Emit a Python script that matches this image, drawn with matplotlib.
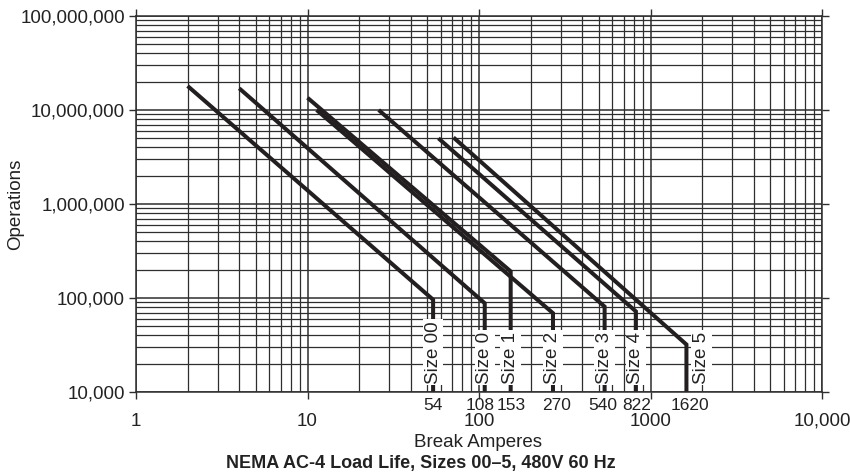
import matplotlib
matplotlib.use("Agg")
import matplotlib.pyplot as plt
from matplotlib.ticker import LogLocator, FixedLocator, NullFormatter, FuncFormatter
import matplotlib.transforms as mtransforms

# ---- data ----
sizes = ["Size 00", "Size 0", "Size 1", "Size 2", "Size 3", "Size 4", "Size 5"]
rated_amps = [54, 108, 153, 270, 540, 822, 1620]
start_amps = [2, 4, 10, 11.3, 26, 58, 71]
start_ops = [18e6, 17e6, 13.5e6, 10e6, 10e6, 5e6, 5.1e6]
knee_ops = [96000, 88000, 192000, 69000, 81000, 72000, 32000]
x_ticks = [1, 10, 100, 1000, 10000]
x_tick_labels = ["1", "10", "100", "1000", "10,000"]
y_ticks = [1e4, 1e5, 1e6, 1e7, 1e8]
amp_labels = ["54", "108", "153", "270", "540", "822", "1620"]

plt.rcParams['font.family'] = ['Liberation Sans', 'DejaVu Sans']
FS = 13.5
GRID = '#2e2e2e'
INK = '#231f20'
TXT = '#222222'

fig = plt.figure(figsize=(8.5, 4.73), dpi=100)
W, H = 850, 473
ax = fig.add_axes([136 / W, 1 - 392 / H, (822 - 136) / W, (392 - 16) / H])
ax.set_xscale('log')
ax.set_yscale('log')
ax.set_xlim(1, 10000)
ax.set_ylim(1e4, 1e8)

ax.xaxis.set_major_locator(FixedLocator(x_ticks))
ax.set_xticklabels(x_tick_labels)
ax.xaxis.set_minor_locator(LogLocator(base=10, subs=range(2, 10), numticks=50))
ax.xaxis.set_minor_formatter(NullFormatter())
ax.yaxis.set_major_locator(FixedLocator(y_ticks))
ax.yaxis.set_major_formatter(FuncFormatter(lambda v, p: f"{int(round(v)):,}"))
ax.yaxis.set_minor_locator(LogLocator(base=10, subs=range(2, 10), numticks=50))
ax.yaxis.set_minor_formatter(NullFormatter())

ax.set_axisbelow(True)
ax.grid(True, which='major', color=GRID, lw=1.1)
ax.grid(True, which='minor', color=GRID, lw=0.9)
for s in ax.spines.values():
    s.set_color(GRID)
    s.set_linewidth(1.1)

ax.tick_params(which='minor', length=0)
ax.tick_params(which='major', direction='out', length=5, width=1, color=GRID,
               top=True, right=True, labeltop=False, labelright=False,
               labelsize=FS, labelcolor=TXT)
ax.tick_params(axis='x', which='major', pad=10)
ax.tick_params(axis='y', which='major', pad=3)

# curves
for i in range(len(sizes)):
    xs = [start_amps[i], rated_amps[i], rated_amps[i]]
    ys = [start_ops[i], knee_ops[i], 1e4]
    ax.plot(xs, ys, color=INK, lw=2.9, solid_joinstyle='miter',
            solid_capstyle='butt', zorder=2.5, clip_on=False)

# size labels
label_dx_px = {"Size 5": 15}
for i, name in enumerate(sizes):
    off = mtransforms.offset_copy(ax.transData, fig=fig, x=label_dx_px.get(name, 0) * 72 / 100,
                                  y=0, units='points')
    ax.text(rated_amps[i], 12300, name, rotation=90, ha='center', va='bottom',
            fontsize=FS, color=TXT, transform=off, zorder=4,
            bbox=dict(facecolor='white', edgecolor='none', pad=1.2))

# amp labels under axis (small horizontal nudges, in pixels, to avoid collisions)
amp_label_dx_px = [0, -5, 1, 3.5, -1.5, 0.5, 3.5]
xt = ax.get_xaxis_transform()
for a, lab, dx in zip(rated_amps, amp_labels, amp_label_dx_px):
    off = mtransforms.offset_copy(xt, fig=fig, x=dx * 72 / 100, y=0, units='points')
    ax.text(a, (392 - 405) / 376, lab, transform=off, ha='center', va='center',
            fontsize=12.5, color=TXT, clip_on=False)

fig.text(478 / W, 1 - 442 / H, "Break Amperes", ha='center', va='center',
         fontsize=FS, color=TXT)
fig.text(421 / W, 1 - 463 / H, "NEMA AC-4 Load Life, Sizes 00\u20135, 480V 60 Hz",
         ha='center', va='center', fontsize=13, fontweight='bold', color=TXT)
fig.text(16 / W, 1 - 204 / H, "Operations", rotation=90, ha='center', va='center',
         fontsize=FS, color=TXT)

fig.savefig("out.png", dpi=100)
